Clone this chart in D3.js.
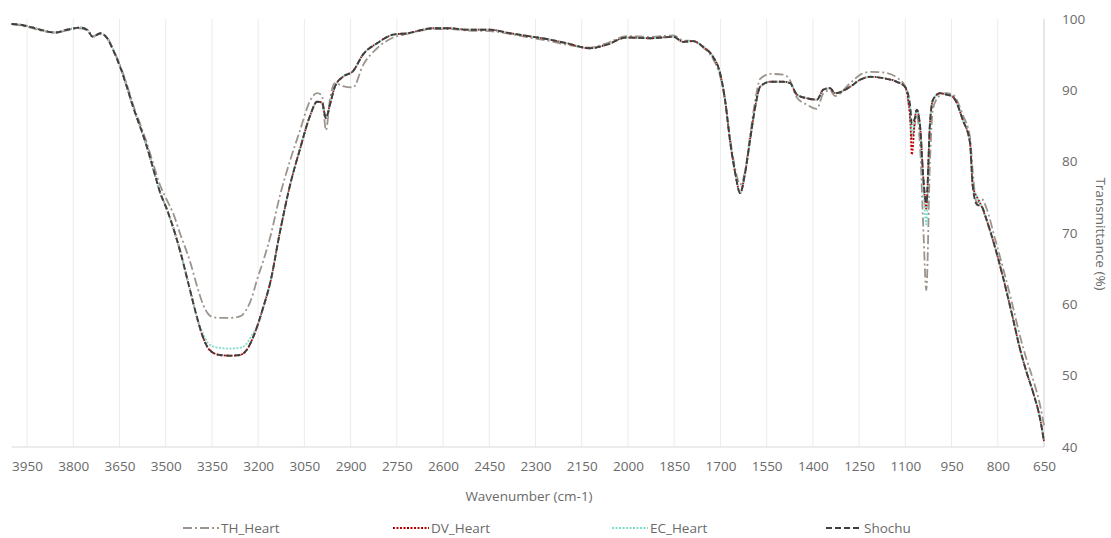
<!DOCTYPE html>
<html><head><meta charset="utf-8">
<script src="https://cdn.jsdelivr.net/npm/d3@7"></script>
<style>
body{margin:0;background:#fff;}
svg{display:block;font-family:'Open Sans',sans-serif;}
</style>
</head><body>
<svg id="chart" width="1111" height="538"></svg>
<script>
// ---- data ----
const wavenumbers = [
4000,3973,3940,3898,3859,3820,3778,3755,3736,3713,
3690,3671,3648,3626,3606,3583,3561,3541,3519,3496,
3476,3454,3421,3398,3379,3363,3346,3324,3291,3259,
3239,3220,3204,3184,3161,3129,3096,3064,3031,3009,
2993,2980,2967,2951,2925,2892,2860,2814,2762,2717,
2632,2577,2523,2448,2383,2307,2252,2199,2123,2069,
2004,1928,1853,1821,1789,1756,1724,1701,1685,1669,
1652,1636,1620,1604,1587,1571,1538,1496,1474,1452,
1420,1387,1366,1344,1328,1279,1246,1213,1171,1128,
1101,1084,1079,1068,1063,1052,1041,1032,1020,1010,
987,966,946,913,890,881,868,852,836,809,
783,755,727,706,685,662,650];

const thHeart = [
99.3,99.1,98.8,98.3,98.1,98.4,98.7,98.4,97.6,97.9,
97.4,95.8,93.5,90.8,88.0,85.3,82.6,79.8,76.8,74.6,
72.8,70.0,66.0,62.5,60.0,58.7,58.2,58.1,58.1,58.3,
59.2,61.0,63.4,66.0,69.4,75.3,80.2,84.4,88.6,89.6,
89.3,84.4,88.7,91.0,90.6,90.4,93.5,95.9,97.4,97.9,
98.6,98.6,98.4,98.3,97.9,97.3,96.9,96.4,96.0,96.6,
97.6,97.5,97.7,97.0,96.9,96.0,94.4,92.0,88.5,83.4,
79.0,76.8,78.6,83.6,88.6,91.6,92.3,92.2,91.4,89.0,
88.0,87.4,89.6,90.0,89.2,91.0,92.2,92.6,92.5,91.8,
90.6,85.8,83.2,85.6,86.6,82.0,70.0,62.0,80.0,87.5,
89.3,89.6,89.4,86.5,83.4,78.4,74.2,74.8,73.4,69.2,
65.1,60.4,55.4,52.2,49.4,45.7,43.0];

const dvHeart = [
99.3,99.2,98.9,98.4,98.1,98.5,98.8,98.5,97.5,98.0,
97.3,95.7,93.3,90.5,87.7,84.9,82.1,79.1,75.8,73.3,
70.8,67.6,62.0,58.1,55.4,53.9,53.2,52.9,52.8,52.9,
53.5,55.0,56.8,59.5,63.0,70.2,76.8,81.8,86.5,88.4,
88.3,86.1,88.0,90.5,91.9,92.7,95.0,96.6,97.8,98.0,
98.7,98.7,98.5,98.5,98.0,97.5,97.1,96.6,95.9,96.4,
97.4,97.3,97.5,96.8,96.9,96.1,94.7,92.4,88.7,83.0,
78.4,75.6,78.4,83.0,87.7,90.5,91.2,91.2,91.0,89.4,
88.9,88.7,90.1,90.3,89.6,90.5,91.5,91.9,91.7,91.2,
90.5,86.0,81.0,86.3,87.3,84.9,77.4,73.4,85.4,88.7,
89.6,89.4,89.1,85.8,82.6,76.5,75.1,73.7,71.8,68.0,
63.8,58.8,53.6,50.4,47.6,43.8,40.8];

const ecHeart = [
99.3,99.2,98.9,98.4,98.1,98.5,98.8,98.5,97.5,98.0,
97.3,95.7,93.3,90.5,87.7,84.9,82.1,79.1,75.8,73.3,
70.8,67.6,62.0,58.1,55.9,54.6,54.1,53.9,53.8,53.9,
54.4,55.7,56.8,59.5,63.0,70.2,76.8,81.8,86.5,88.4,
88.3,86.1,88.0,90.5,91.9,92.7,95.0,96.6,97.8,98.0,
98.7,98.7,98.5,98.5,98.0,97.5,97.1,96.6,95.9,96.4,
97.4,97.3,97.5,96.8,96.9,96.1,94.7,92.4,88.7,83.0,
78.4,75.6,78.4,83.0,87.7,90.5,91.2,91.2,91.0,89.4,
88.9,88.7,90.1,90.3,89.6,90.5,91.5,91.9,91.7,91.2,
90.5,87.7,84.0,86.3,87.3,84.9,76.0,71.2,85.4,88.7,
89.6,89.4,89.1,85.8,82.6,76.5,75.1,73.7,71.8,68.0,
63.8,58.8,53.6,50.4,47.6,43.8,40.8];

const shochu = [
99.3,99.2,98.9,98.4,98.1,98.5,98.8,98.5,97.5,98.0,
97.3,95.7,93.3,90.5,87.7,84.9,82.1,79.1,75.8,73.3,
70.8,67.6,62.0,58.1,55.4,53.9,53.2,52.9,52.8,52.9,
53.5,55.0,56.8,59.5,63.0,70.2,76.8,81.8,86.5,88.4,
88.3,86.1,88.0,90.5,91.9,92.7,95.0,96.6,97.8,98.0,
98.7,98.7,98.5,98.5,98.0,97.5,97.1,96.6,95.9,96.4,
97.4,97.3,97.5,96.8,96.9,96.1,94.7,92.4,88.7,83.0,
78.4,75.6,78.4,83.0,87.7,90.5,91.2,91.2,91.0,89.4,
88.9,88.7,90.1,90.3,89.6,90.5,91.5,91.9,91.7,91.2,
90.5,87.7,85.3,86.3,87.3,84.9,77.4,74.2,85.4,88.7,
89.6,89.4,89.1,85.8,82.6,76.5,74.0,73.7,71.8,68.0,
63.8,58.8,53.6,50.4,47.6,43.8,40.8];

const seriesNames = ["TH_Heart","DV_Heart","EC_Heart","Shochu"];
const xTickLabels = [3950,3800,3650,3500,3350,3200,3050,2900,2750,2600,2450,2300,2150,2000,1850,1700,1550,1400,1250,1100,950,800,650];
const yTickLabels = [40,50,60,70,80,90,100];

// ---- styles ----
const styles = {
  "TH_Heart": {color:"#9d958d", dash:"9,3,2,3", width:1.8},
  "DV_Heart": {color:"#c00000", dash:"2,1.5", width:1.8},
  "EC_Heart": {color:"#7fdccb", dash:"2,1.5", width:1.8},
  "Shochu":   {color:"#3f3f3f", dash:"6,3", width:1.9}
};
const valuesBySeries = {"TH_Heart":thHeart,"DV_Heart":dvHeart,"EC_Heart":ecHeart,"Shochu":shochu};

const svg = d3.select("#chart");
const pLeft = 11.6, pRight = 1044, pTop = 19, pBottom = 447;
const x = d3.scaleLinear().domain([4000,650]).range([pLeft,pRight]);
const y = d3.scaleLinear().domain([40,100]).range([pBottom,pTop]);
const textColor = "#6a6a6a";

// vertical gridlines
svg.append("g").selectAll("line").data(xTickLabels).join("line")
  .attr("x1",d=>x(d)).attr("x2",d=>x(d)).attr("y1",pTop).attr("y2",pBottom)
  .attr("stroke","#ececec").attr("stroke-width",1);

// x axis
const xAxis = svg.append("g").attr("transform",`translate(0,${pBottom})`)
  .call(d3.axisBottom(x).tickValues(xTickLabels).tickSize(0).tickPadding(14).tickFormat(d3.format("d")));
xAxis.select(".domain").attr("stroke","#d9d9d9").attr("d",`M${pLeft},0H${pRight}`);
xAxis.selectAll("text").attr("fill",textColor).attr("font-size","13.5px").attr("font-family","'Open Sans',sans-serif");

// y axis (right)
const yAxis = svg.append("g").attr("transform",`translate(${pRight},0)`)
  .call(d3.axisRight(y).tickValues(yTickLabels).tickSize(0).tickPadding(18));
yAxis.select(".domain").attr("stroke","#d9d9d9").attr("d",`M0,${pTop}V${pBottom}`);
yAxis.selectAll("text").attr("fill",textColor).attr("font-size","13.5px").attr("font-family","'Open Sans',sans-serif");

// axis titles
svg.append("text").attr("x",529).attr("y",501).attr("text-anchor","middle")
  .attr("fill",textColor).attr("font-size","13.5px").text("Wavenumber (cm-1)");
svg.append("text").attr("transform","translate(1096,234) rotate(90)").attr("text-anchor","middle")
  .attr("fill",textColor).attr("font-size","13.5px").text("Transmittance (%)");

// lines
const line = d3.line().x(d=>x(d[0])).y(d=>y(d[1])).curve(d3.curveMonotoneX);
const plot = svg.append("g");
seriesNames.forEach(name=>{
  const vals = valuesBySeries[name];
  const pts = wavenumbers.map((w,i)=>[w,vals[i]]);
  const s = styles[name];
  plot.append("path").datum(pts).attr("d",line)
    .attr("fill","none").attr("stroke",s.color).attr("stroke-width",s.width)
    .attr("stroke-dasharray",s.dash).attr("stroke-linejoin","round");
});

// legend
const legendX = [183,393,612,826];
const legendY = 528;
const lg = svg.append("g");
seriesNames.forEach((name,i)=>{
  const s = styles[name];
  lg.append("line").attr("x1",legendX[i]).attr("x2",legendX[i]+36)
    .attr("y1",legendY).attr("y2",legendY)
    .attr("stroke",s.color).attr("stroke-width",s.width).attr("stroke-dasharray",s.dash);
  lg.append("text").attr("x",legendX[i]+38).attr("y",legendY+5)
    .attr("fill",textColor).attr("font-size","13.5px").text(name);
});
</script>
</body></html>
